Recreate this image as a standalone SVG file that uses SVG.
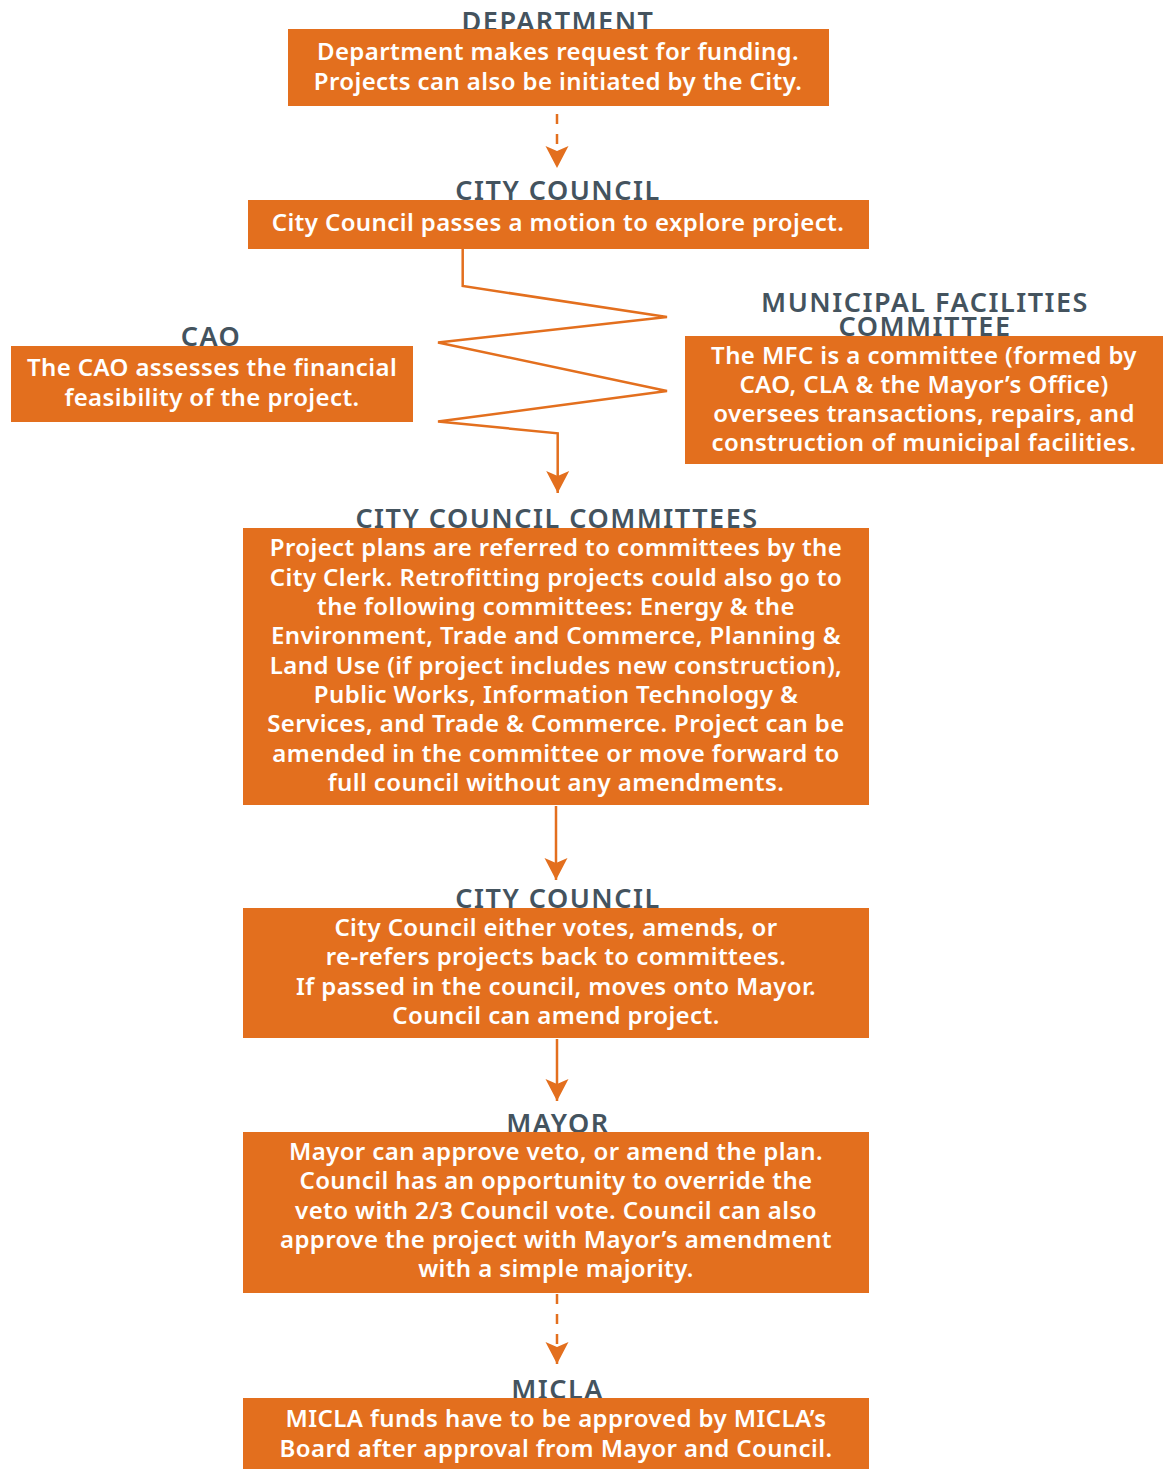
<svg xmlns="http://www.w3.org/2000/svg" width="1172" height="1469" viewBox="0 0 1172 1469">
<style>
.box{fill:#e36f1e}
.ttl{font-family:"Noto Sans","Liberation Sans",sans-serif;font-size:27px;font-weight:600;letter-spacing:1.5px;fill:#44535e;text-anchor:middle}
.txt{font-family:"Noto Sans","Liberation Sans",sans-serif;font-size:24px;font-weight:600;letter-spacing:0.4px;fill:#ffffff;text-anchor:middle}
.ln{fill:none;stroke:#e36f1e;stroke-width:2.5}
.dash{stroke-dasharray:10 10}
</style>
<defs>
<marker id="ah" markerUnits="userSpaceOnUse" markerWidth="26" markerHeight="26" viewBox="-24 -13 26 26" refX="0" refY="0" orient="auto">
<path d="M0,0 L-22,-11.5 L-17,0 L-22,11.5 Z" fill="#e36f1e"/>
</marker>
</defs>
<g id="connectors">
<path class="ln dash" d="M557,114 V168" marker-end="url(#ah)"/>
<polyline class="ln" stroke-width="3" points="462.7,249 462.7,286 667,317 438,342.5 667,391 438,421.5 557.7,433.3 557.7,493" marker-end="url(#ah)"/>
<path class="ln" d="M556,806 V880" marker-end="url(#ah)"/>
<path class="ln" d="M557,1039 V1101" marker-end="url(#ah)"/>
<path class="ln dash" d="M557,1294 V1364" marker-end="url(#ah)"/>
</g>
<g id="department">
<text class="ttl" x="558" y="31">DEPARTMENT</text>
<rect class="box" x="288" y="29" width="541" height="77"/>
<text class="txt" x="558" y="60">Department makes request for funding.</text>
<text class="txt" x="558" y="90">Projects can also be initiated by the City.</text>
</g>
<g id="city-council-1">
<text class="ttl" x="558" y="200">CITY COUNCIL</text>
<rect class="box" x="248" y="200" width="621" height="49"/>
<text class="txt" x="558" y="231">City Council passes a motion to explore project.</text>
</g>
<g id="cao">
<text class="ttl" x="211" y="346">CAO</text>
<rect class="box" x="11" y="346" width="402" height="76"/>
<text class="txt" x="212" y="376">The CAO assesses the financial</text>
<text class="txt" x="212" y="406">feasibility of the project.</text>
</g>
<g id="mfc">
<text class="ttl" x="925" y="312">MUNICIPAL FACILITIES</text>
<text class="ttl" x="925" y="336">COMMITTEE</text>
<rect class="box" x="685" y="336" width="478" height="128"/>
<text class="txt" x="924" y="364">The MFC is a committee (formed by</text>
<text class="txt" x="924" y="393">CAO, CLA &amp; the Mayor’s Office)</text>
<text class="txt" x="924" y="422">oversees transactions, repairs, and</text>
<text class="txt" x="924" y="451">construction of municipal facilities.</text>
</g>
<g id="committees">
<text class="ttl" x="557" y="528">CITY COUNCIL COMMITTEES</text>
<rect class="box" x="243" y="528" width="626" height="277"/>
<text class="txt" x="556" y="556">Project plans are referred to committees by the</text>
<text class="txt" x="556" y="585.5">City Clerk. Retrofitting projects could also go to</text>
<text class="txt" x="556" y="615">the following committees: Energy &amp; the</text>
<text class="txt" x="556" y="644">Environment, Trade and Commerce, Planning &amp;</text>
<text class="txt" x="556" y="673.5">Land Use (if project includes new construction),</text>
<text class="txt" x="556" y="703">Public Works, Information Technology &amp;</text>
<text class="txt" x="556" y="732">Services, and Trade &amp; Commerce. Project can be</text>
<text class="txt" x="556" y="761.5">amended in the committee or move forward to</text>
<text class="txt" x="556" y="791">full council without any amendments.</text>
</g>
<g id="city-council-2">
<text class="ttl" x="558" y="908">CITY COUNCIL</text>
<rect class="box" x="243" y="908" width="626" height="130"/>
<text class="txt" x="556" y="936">City Council either votes, amends, or</text>
<text class="txt" x="556" y="965">re-refers projects back to committees.</text>
<text class="txt" x="556" y="995">If passed in the council, moves onto Mayor.</text>
<text class="txt" x="556" y="1024">Council can amend project.</text>
</g>
<g id="mayor">
<text class="ttl" x="558" y="1133">MAYOR</text>
<rect class="box" x="243" y="1132" width="626" height="161"/>
<text class="txt" x="556" y="1160">Mayor can approve veto, or amend the plan.</text>
<text class="txt" x="556" y="1189">Council has an opportunity to override the</text>
<text class="txt" x="556" y="1219">veto with 2/3 Council vote. Council can also</text>
<text class="txt" x="556" y="1248">approve the project with Mayor’s amendment</text>
<text class="txt" x="556" y="1277">with a simple majority.</text>
</g>
<g id="micla">
<text class="ttl" x="557.5" y="1399">MICLA</text>
<rect class="box" x="243" y="1398" width="626" height="71"/>
<text class="txt" x="556" y="1427">MICLA funds have to be approved by MICLA’s</text>
<text class="txt" x="556" y="1457">Board after approval from Mayor and Council.</text>
</g>
</svg>
